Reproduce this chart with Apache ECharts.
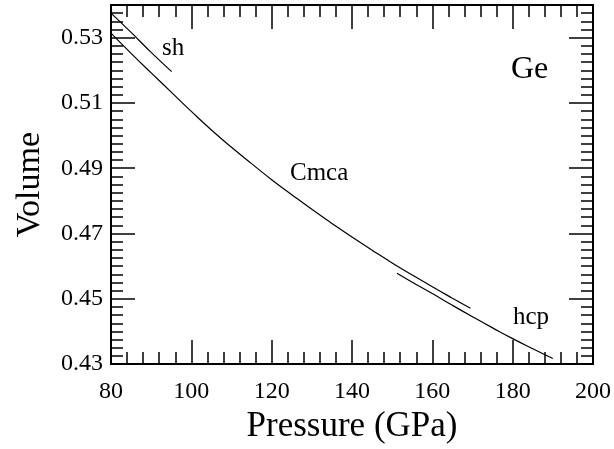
<!DOCTYPE html>
<html>
<head>
<meta charset="utf-8">
<script src="https://cdn.jsdelivr.net/npm/echarts@6/dist/echarts.min.js"></script>
<style>
html,body{margin:0;padding:0;background:#fff;}
#chart{width:614px;height:449px;}
</style>
</head>
<body>
<div id="chart"></div>
<script>
// Data
const shP = [80, 85, 90, 95.1];
const shV = [0.5375, 0.5316, 0.5255, 0.5196];

const cmcaP = [80, 85, 90, 95, 100, 105, 110, 115, 120, 125, 130, 135, 140, 145, 150, 155, 160, 165, 169.5];
const cmcaV = [0.5314, 0.5252, 0.5192, 0.5133, 0.5074, 0.5017, 0.4964, 0.4914, 0.4865, 0.4819, 0.4774, 0.4731, 0.4689, 0.4649, 0.4610, 0.4573, 0.4537, 0.4502, 0.4471];

const hcpP = [151.2, 155, 160, 165, 170, 175, 180, 185, 190];
const hcpV = [0.4578, 0.4551, 0.4516, 0.4480, 0.4445, 0.4411, 0.4378, 0.4347, 0.4317];

const xTicks = [80, 100, 120, 140, 160, 180, 200];
const yTicks = [0.43, 0.45, 0.47, 0.49, 0.51, 0.53];

const FONT = '"Liberation Serif", "Times New Roman", serif';

function pairs(xs, ys) { return xs.map((x, i) => [x, ys[i]]); }

const chart = echarts.init(document.getElementById('chart'), null, {renderer: 'canvas'});

const tickStyle = {color: '#000', width: 1.5};
const lineAxis = {show: true, lineStyle: {color: '#000', width: 2}};

function xAxisDef(pos, labels) {
  return {
    type: 'value', position: pos, min: xTicks[0], max: xTicks[xTicks.length - 1], interval: 20,
    axisLine: lineAxis,
    axisTick: {show: true, inside: true, length: 24, lineStyle: tickStyle},
    minorTick: {show: true, splitNumber: 5, length: 12, lineStyle: tickStyle},
    splitLine: {show: false}, minorSplitLine: {show: false},
    axisLabel: {show: labels, margin: 16, color: '#000', fontFamily: FONT, fontSize: 24},
    name: labels ? 'Pressure (GPa)' : '', nameLocation: 'middle', nameGap: 38,
    nameTextStyle: {color: '#000', fontFamily: FONT, fontSize: 35}
  };
}
function yMajor(pos, labels) {
  return {
    type: 'value', position: pos, min: yTicks[0], max: 0.54, interval: 0.02,
    axisLine: lineAxis,
    axisTick: {show: true, inside: true, length: 24, lineStyle: tickStyle},
    splitLine: {show: false},
    axisLabel: {show: labels, margin: 8, showMaxLabel: false, color: '#000', fontFamily: FONT, fontSize: 24,
      formatter: v => v.toFixed(2)},
    name: labels ? 'Volume' : '', nameLocation: 'middle', nameGap: 64,
    nameTextStyle: {color: '#000', fontFamily: FONT, fontSize: 34}
  };
}
function yMinor(pos) {
  return {
    type: 'value', position: pos, min: yTicks[0], max: 0.54, interval: 0.0025,
    axisLine: {show: false},
    axisTick: {show: true, inside: true, length: 12, lineStyle: tickStyle},
    splitLine: {show: false},
    axisLabel: {show: false}
  };
}

const lineSeries = (name, data) => ({
  name, type: 'line', data, xAxisIndex: 0, yAxisIndex: 0,
  showSymbol: false, smooth: true, animation: false,
  lineStyle: {color: '#000', width: 1.2}
});

chart.setOption({
  backgroundColor: '#fff',
  animation: false,
  grid: {left: 111, right: 21, top: 5, bottom: 84, containLabel: false},
  xAxis: [xAxisDef('bottom', true), xAxisDef('top', false)],
  yAxis: [yMajor('left', true), yMinor('left'), yMajor('right', false), yMinor('right')],
  series: [
    lineSeries('sh', pairs(shP, shV)),
    lineSeries('Cmca', pairs(cmcaP, cmcaV)),
    lineSeries('hcp', pairs(hcpP, hcpV))
  ],
  graphic: [
    {type: 'text', left: 162, top: 36, style: {text: 'sh', fontFamily: FONT, fontSize: 25, fill: '#000'}},
    {type: 'text', left: 290, top: 161, style: {text: 'Cmca', fontFamily: FONT, fontSize: 25, fill: '#000'}},
    {type: 'text', left: 513, top: 305, style: {text: 'hcp', fontFamily: FONT, fontSize: 25, fill: '#000'}},
    {type: 'text', left: 511, top: 54, style: {text: 'Ge', fontFamily: FONT, fontSize: 32, fill: '#000'}}
  ]
});
</script>
</body>
</html>
